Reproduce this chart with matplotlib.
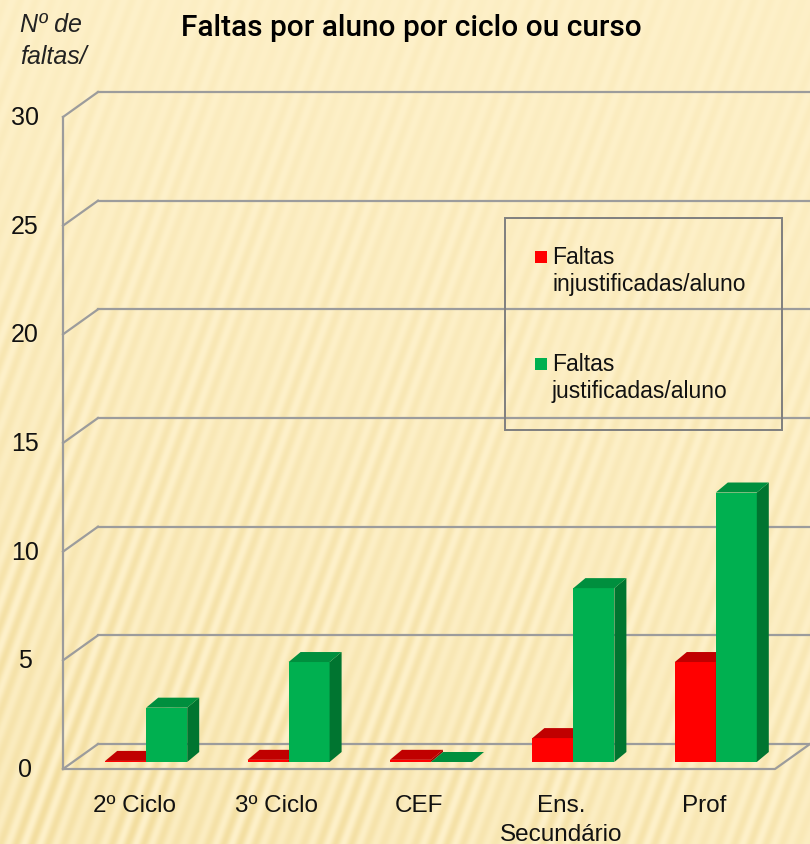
import numpy as np
import matplotlib
matplotlib.use("Agg")
import matplotlib.pyplot as plt
from matplotlib.patches import Polygon, Rectangle

plt.rcParams['font.family'] = ['Liberation Sans', 'DejaVu Sans']

# data
categorias = ["2º Ciclo", "3º Ciclo", "CEF", "Ens.\nSecundário", "Prof"]
injustificadas = [0.05, 0.1, 0.1, 1.1, 4.6]
justificadas = [2.5, 4.6, 0.0, 8.0, 12.4]
yticks = [0, 5, 10, 15, 20, 25, 30]
serie_nomes = ["Faltas\ninjustificadas/aluno", "Faltas\njustificadas/aluno"]

W, H = 810, 845
fig = plt.figure(figsize=(W / 100, H / 100), dpi=100)

# striped background
bg = fig.add_axes([0, 0, 1, 1])
rr, cc = np.mgrid[0:H, 0:W].astype(float)
ang = np.deg2rad(70)
ph = (cc * np.sin(ang) + rr * np.cos(ang))
t = 0.5 + 0.5 * np.sin(2 * np.pi * ph / 15.0) * (0.7 + 0.3 * np.sin(2 * np.pi * ph / 97.0))
amp = np.clip(0.2 + 0.9 * (rr / H) * (1.0 - 0.5 * cc / W), 0, 1)
base = np.array([254, 241, 202]) / 255.0
dark = np.array([243, 222, 160]) / 255.0
img = base[None, None, :] + (dark - base)[None, None, :] * (t * amp)[:, :, None]
bg.imshow(img, extent=[0, 1, 0, 1], aspect='auto', interpolation='bilinear')
bg.set_axis_off()

# front plane of the 3d chart
x0px, x1px, y0px, y1px = 63, 775, 770, 118
ax = fig.add_axes([x0px / W, (H - y0px) / H, (x1px - x0px) / W, (y0px - y1px) / H])
ax.set_xlim(-0.5, 4.5)
ax.set_ylim(0, 30)
ax.patch.set_alpha(0)
ax.set_axis_off()

pxx = (x1px - x0px) / 5.0
pxy = (y0px - y1px) / 30.0
# depth of the walls, offset of the bars, depth of the bars (pixels)
wdx, wdy = 35 / pxx, 25 / pxy
bdx, bdy = 12 / pxx, 7 / pxy
ddx, ddy = 12 / pxx, 10 / pxy
bw = 41 / pxx

grid = '#9c9c9c'
for v in yticks:
    ax.plot([-0.5 + wdx, 4.5 + wdx], [v + wdy, v + wdy], color=grid, lw=1.6, clip_on=False, zorder=1)
    ax.plot([-0.5, -0.5 + wdx], [v, v + wdy], color=grid, lw=1.6, clip_on=False, zorder=1)
ax.plot([-0.5, -0.5], [0, 30], color=grid, lw=1.6, clip_on=False, zorder=1)
ax.plot([-0.5, 4.5, 4.5 + wdx], [0, 0, wdy], color=grid, lw=1.6, clip_on=False, zorder=1)

cores = [('#ff0000', '#c00000', '#a00000'), ('#00b050', '#008f3e', '#007530')]


def barra(x, v, cor, z):
    frente, topo, lado = cor
    y = bdy
    ax.add_patch(Rectangle((x, y), bw, v, facecolor=frente, edgecolor='none', zorder=z, clip_on=False))
    ax.add_patch(Polygon([(x + bw, y), (x + bw + ddx, y + ddy), (x + bw + ddx, y + v + ddy), (x + bw, y + v)],
                         closed=True, facecolor=lado, edgecolor='none', zorder=z, clip_on=False))
    ax.add_patch(Polygon([(x, y + v), (x + bw, y + v), (x + bw + ddx, y + v + ddy), (x + ddx, y + v + ddy)],
                         closed=True, facecolor=topo, edgecolor='none', zorder=z, clip_on=False))


for i in range(len(categorias)):
    barra(i + bdx - bw, injustificadas[i], cores[0], 3 + 2 * i)
    barra(i + bdx, justificadas[i], cores[1], 4 + 2 * i)

# tick labels
for v in yticks:
    ax.text(-0.5 - 38 / pxx, v, str(v), ha='center', va='center', fontsize=18, color='#111111', clip_on=False)
for i, c in enumerate(categorias):
    ax.text(i, -25 / pxy, c, ha='center', va='top', fontsize=17.5, color='#111111',
            linespacing=1.4, clip_on=False)

fig.text(411 / W, 1 - 28 / H, "Faltas por aluno por ciclo ou curso", ha='center', va='center',
         fontsize=21.5, family=['Roboto', 'DejaVu Sans'], fontweight='medium', color='#000000')
fig.text(20 / W, 1 - 25 / H, "Nº de", ha='left', va='center', fontsize=18, style='italic', color='#222222')
fig.text(20 / W, 1 - 57 / H, "faltas/", ha='left', va='center', fontsize=18, style='italic', color='#222222')

# legend
fig.patches.append(Rectangle((505 / W, 1 - 431 / H), 277 / W, 212 / H, transform=fig.transFigure,
                             facecolor='none', edgecolor='#7f7f7f', lw=1.4, zorder=20))
for k, (nome, yc) in enumerate(zip(serie_nomes, [258, 365])):
    fig.patches.append(Rectangle((535 / W, 1 - (yc + 6) / H), 12 / W, 12 / H, transform=fig.transFigure,
                                 facecolor=cores[k][0], edgecolor='none', zorder=20))
    fig.text(552 / W, 1 - (yc - 12) / H, nome, ha='left', va='top', fontsize=16.5, color='#111111',
             linespacing=1.2)

fig.savefig("out.png", dpi=100)
